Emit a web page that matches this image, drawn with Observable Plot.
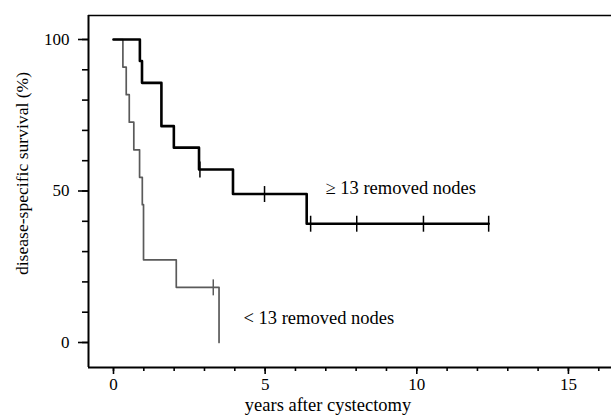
<!DOCTYPE html>
<html>
<head>
<meta charset="utf-8">
<script src="https://cdn.jsdelivr.net/npm/d3@7"></script>
<script src="https://cdn.jsdelivr.net/npm/@observablehq/plot@0.6"></script>
<style>
  html, body { margin: 0; padding: 0; background: #fff; overflow: hidden; }
  svg { display: block; }
</style>
</head>
<body>
<div id="chart"></div>
<script>
// ≥ 13 removed nodes
const hiTimes = [0, 0.87, 0.94, 1.58, 1.99, 2.82, 3.94, 6.37, 12.37];
const hiSurv  = [100, 92.9, 85.7, 71.4, 64.3, 57.1, 49.0, 39.2, 39.2];
const hiCensorTimes = [2.85, 4.98, 6.5, 8.02, 10.22, 12.37];
// < 13 removed nodes
const loTimes = [0, 0.31, 0.42, 0.52, 0.67, 0.86, 0.95, 0.99, 2.07, 3.48];
const loSurv  = [100, 90.9, 81.8, 72.7, 63.6, 54.5, 45.5, 27.3, 18.2, 0];
const loCensorTimes = [3.29];

const groupLabels = ["≥ 13 removed nodes", "< 13 removed nodes"];
const xMajorTicks = [0, 5, 10, 15];
const xMinorTicks = d3.range(0, 17, 1);
const yMajorTicks = [0, 50, 100];
const yMinorTicks = d3.range(0, 101, 10);
const xDomain = [-0.824, 16.42];
const yDomain = [-8.25, 107.92];

function stepValue(times, surv, t) {
  let v = surv[0];
  for (let i = 0; i < times.length; i++) if (times[i] <= t) v = surv[i];
  return v;
}
const hi = hiTimes.map((t, i) => ({t, s: hiSurv[i]}));
const lo = loTimes.map((t, i) => ({t, s: loSurv[i]}));
const hiC = hiCensorTimes.map(t => ({t, s: stepValue(hiTimes, hiSurv, t)}));
const loC = loCensorTimes.map(t => ({t, s: stepValue(loTimes, loSurv, t)}));

const vbar = { draw(ctx, size) { const h = Math.sqrt(size); ctx.moveTo(0, -h); ctx.lineTo(0, h); } };

const font = "'Liberation Serif', 'Times New Roman', serif";

const chart = Plot.plot({
  width: 611,
  height: 418,
  marginLeft: 88,
  marginRight: 0,
  marginTop: 15,
  marginBottom: 51,
  style: { fontFamily: font, fontSize: "17px", background: "#fff", color: "#000" },
  x: { domain: xDomain, axis: null },
  y: { domain: yDomain, axis: null },
  marks: [
    Plot.ruleX([xDomain[0]], { stroke: "#000", strokeWidth: 2 }),
    Plot.ruleY([yDomain[0]], { stroke: "#000", strokeWidth: 2 }),
    Plot.ruleY([yDomain[1]], { stroke: "#000", strokeWidth: 1.6 }),
    Plot.axisY({ ticks: yMinorTicks, tickSize: 6, text: null, strokeWidth: 1.6, label: null }),
    Plot.axisY({ ticks: yMajorTicks, tickSize: 10, tickPadding: 9, strokeWidth: 1.6, fontSize: 17, label: null }),
    Plot.axisX({ ticks: xMinorTicks, tickSize: 4, text: null, strokeWidth: 1.6, label: null }),
    Plot.axisX({ ticks: xMajorTicks, tickSize: 7, tickPadding: 3, strokeWidth: 1.6, fontSize: 17, label: null }),
    Plot.text(["years after cystectomy"], { frameAnchor: "bottom", dx: -22, dy: 43, fontSize: 18.5, textAnchor: "middle" }),
    Plot.text(["disease-specific survival (%)"], { frameAnchor: "left", dx: -66, dy: -18, rotate: -90, fontSize: 17.6, textAnchor: "middle" }),
    Plot.line(lo, { x: "t", y: "s", curve: "step-after", stroke: "#5a5a5a", strokeWidth: 1.7 }),
    Plot.line(hi, { x: "t", y: "s", curve: "step-after", stroke: "#000", strokeWidth: 2.6 }),
    Plot.dot(loC, { x: "t", y: "s", symbol: vbar, r: 4.5, stroke: "#5a5a5a", strokeWidth: 1.5, fill: "none" }),
    Plot.dot(hiC, { x: "t", y: "s", symbol: vbar, r: 4.5, stroke: "#000", strokeWidth: 1.5, fill: "none" }),
    Plot.text([groupLabels[0]], { frameAnchor: "top-left", dx: 237, dy: 165, textAnchor: "start", fontSize: 18.5 }),
    Plot.text([groupLabels[1]], { frameAnchor: "top-left", dx: 155, dy: 295, textAnchor: "start", fontSize: 18.5 })
  ]
});
document.getElementById("chart").appendChild(chart);
</script>
</body>
</html>
